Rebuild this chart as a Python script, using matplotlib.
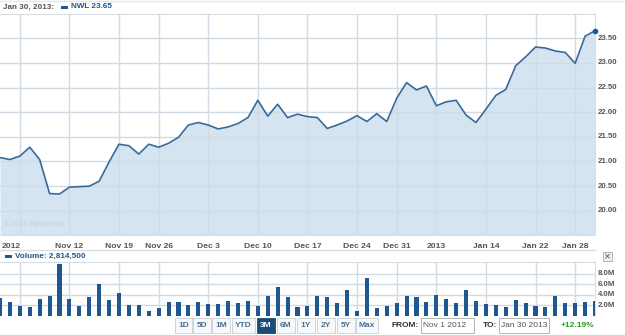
import matplotlib
matplotlib.use("Agg")
import matplotlib.pyplot as plt
from matplotlib.patches import Rectangle
import numpy as np

# ---- data (trading days Nov 1 2012 .. Jan 30 2013) ----
price = [21.08, 21.04, 21.11, 21.29, 21.04, 20.35, 20.34, 20.48, 20.49, 20.50,
         20.60, 20.99, 21.35, 21.32, 21.15, 21.35, 21.29, 21.37, 21.49, 21.74,
         21.79, 21.74, 21.66, 21.70, 21.77, 21.89, 22.24, 21.92, 22.16, 21.89,
         21.96, 21.91, 21.89, 21.67, 21.74, 21.82, 21.93, 21.81, 21.97, 21.81,
         22.28, 22.60, 22.45, 22.53, 22.13, 22.21, 22.24, 21.94, 21.79, 22.06,
         22.34, 22.46, 22.94, 23.12, 23.32, 23.30, 23.24, 23.21, 22.99, 23.54,
         23.65]
volume_m = [3.33, 2.63, 1.87, 1.56, 3.20, 3.65, 9.80, 3.20, 1.87, 3.52,
            5.94, 2.90, 4.29, 2.00, 2.00, 0.86, 1.43, 2.51, 2.63, 2.00,
            2.63, 2.19, 2.19, 2.76, 2.32, 2.76, 1.87, 3.71, 5.43, 3.52,
            1.56, 1.81, 3.78, 3.46, 2.44, 4.86, 0.86, 7.08, 1.49, 1.81,
            2.32, 3.65, 3.46, 2.57, 3.97, 3.14, 2.32, 4.86, 2.76, 2.19,
            1.94, 1.56, 2.90, 2.32, 1.75, 1.56, 3.78, 2.32, 2.32, 2.57,
            2.81]
tick_idx = [2, 7, 12, 16, 21, 26, 31, 36, 40, 44, 49, 54, 58]
tick_labels = ["2012", "Nov 12", "Nov 19", "Nov 26", "Dec 3", "Dec 10", "Dec 17",
               "Dec 24", "Dec 31", "2013", "Jan 14", "Jan 22", "Jan 28"]
price_ticks = [20.0, 20.5, 21.0, 21.5, 22.0, 22.5, 23.0, 23.5]
vol_ticks = [2, 4, 6, 8]
buttons = ["1D", "5D", "1M", "YTD", "3M", "6M", "1Y", "2Y", "5Y", "Max"]

W, H = 625, 335
fig = plt.figure(figsize=(W / 100, H / 100), dpi=100)
fig.patch.set_facecolor("white")

FONT = "Liberation Sans"
GRAY = "#555555"
BLUE = "#1f5790"
LINE = "#3a6a9a"
FILL = "#d4e4f0"
GRID = "#d2dbe5"

def fx(px):
    return px / W

def fy(py):
    return 1 - py / H

x = np.arange(len(price))

# ---- main price axes ----
ax = fig.add_axes([0, fy(235), fx(595), (235 - 14) / H])
ax.set_xlim(0, len(price) - 1)
ax.set_ylim(19.51, 23.99)
ax.fill_between(x, price, 19.51, color=FILL, lw=0, zorder=1)
ax.plot(x, price, color=LINE, lw=1.2, zorder=3)
ax.plot([x[-1]], [price[-1]], "o", ms=3, color=BLUE, zorder=4, clip_on=False)
ax.set_yticks(price_ticks)
ax.set_xticks(tick_idx)
ax.grid(True, color=GRID, lw=1, zorder=2)
ax.set_axisbelow(False)
ax.tick_params(length=0, labelleft=False, labelbottom=False)
for s in ax.spines.values():
    s.set_color("#d8dee5")
    s.set_linewidth(0.8)
ax.spines["left"].set_visible(False)
for p in price_ticks:
    ax.text(1.0 + 3 / 595, p, f"{p:.2f}", transform=ax.get_yaxis_transform(),
            ha="left", va="center", fontsize=5.7, fontweight="bold",
            color=GRAY, family=FONT, clip_on=False)
ax.text(0.006, 0.03, "\u00a9 2013 Yahoo! Inc.", transform=ax.transAxes,
        fontsize=5.2, color="#c4ccd4", family=FONT, ha="left", va="bottom")

# x tick labels
for i, lab in zip(tick_idx, tick_labels):
    ha = "right" if lab == "2012" else "center"
    xi = i + (0.1 if lab == "2012" else 0)
    ax.text(xi, -0.035, lab, transform=ax.get_xaxis_transform(), ha=ha,
            va="top", fontsize=6.1, fontweight="bold", color=GRAY, family=FONT,
            clip_on=False)

# ---- header ----
fig.text(fx(3), fy(7), "Jan 30, 2013:", ha="left", va="center", fontsize=5.9,
         fontweight="bold", color=GRAY, family=FONT)
fig.patches.append(Rectangle((fx(61), fy(9)), fx(7), 3 / H, transform=fig.transFigure,
                             color=BLUE, lw=0))
fig.text(fx(71), fy(7), "NWL 23.65", ha="left", va="center", fontsize=5.9,
         fontweight="bold", color=BLUE, family=FONT)
fig.lines.append(plt.Line2D([0, 1], [fy(0.5), fy(0.5)], transform=fig.transFigure,
                            color="#e4e8ec", lw=1))

# separator line
fig.lines.append(plt.Line2D([0, fx(595)], [fy(249.5), fy(249.5)], transform=fig.transFigure,
                            color="#dcdcdc", lw=1))

# ---- volume header ----
fig.patches.append(Rectangle((fx(5), fy(257.5)), fx(7), 3 / H, transform=fig.transFigure,
                             color=BLUE, lw=0))
fig.text(fx(15), fy(256), "Volume: 2,814,500", ha="left", va="center", fontsize=5.9,
         fontweight="bold", color=BLUE, family=FONT)
fig.patches.append(Rectangle((fx(603), fy(261)), fx(9), 9 / H, transform=fig.transFigure,
                             facecolor="#f0f0f0", edgecolor="#aaaaaa", lw=0.6))
fig.text(fx(607.5), fy(256.5), "\u00d7", ha="center", va="center", fontsize=6,
         color="#444444", family="DejaVu Sans")

# ---- volume axes ----
vax = fig.add_axes([0, fy(315.5), fx(595), (315.5 - 262) / H])
vax.set_xlim(0, len(price) - 1)
vax.set_ylim(0, 10.2)
vax.bar(x, volume_m, width=0.42, color=BLUE, zorder=3)
vax.set_xticks(tick_idx)
vax.set_yticks(vol_ticks)
vax.grid(True, color=GRID, lw=1, zorder=1)
vax.tick_params(length=0, labelleft=False, labelbottom=False)
for s in vax.spines.values():
    s.set_color("#d8dee5")
    s.set_linewidth(0.8)
vax.spines["left"].set_visible(False)
vax.spines["bottom"].set_visible(False)
for v in vol_ticks:
    vax.text(1.0 + 3 / 595, v, f"{v:.1f}M", transform=vax.get_yaxis_transform(),
             ha="left", va="center", fontsize=5.7, fontweight="bold",
             color=GRAY, family=FONT, clip_on=False)

# ---- range buttons ----
bx = [(175, 192), (193, 211), (212, 230), (232, 255), (257, 275),
      (277, 295), (297, 315), (317, 335), (337, 355), (356, 378)]
for lab, (a, b) in zip(buttons, bx):
    sel = lab == "3M"
    fig.patches.append(Rectangle((fx(a), fy(333)), fx(b - a), 15 / H,
                                 transform=fig.transFigure,
                                 facecolor="#1c4b78" if sel else "#f7f8fa",
                                 edgecolor="#1c4b78" if sel else "#c8ced6", lw=0.6))
    fig.text(fx((a + b) / 2), fy(325.5), lab, ha="center", va="center",
             fontsize=6, fontweight="bold",
             color="white" if sel else "#4a6f96", family=FONT)

fig.text(fx(392), fy(325.5), "FROM:", ha="left", va="center", fontsize=6,
         fontweight="bold", color="#333333", family=FONT)
fig.patches.append(Rectangle((fx(421), fy(333)), fx(53), 15 / H, transform=fig.transFigure,
                             facecolor="white", edgecolor="#a8a8a8", lw=0.6))
fig.text(fx(423), fy(325.5), "Nov 1 2012", ha="left", va="center", fontsize=6,
         color="#555555", family=FONT)
fig.text(fx(483), fy(325.5), "TO:", ha="left", va="center", fontsize=6,
         fontweight="bold", color="#333333", family=FONT)
fig.patches.append(Rectangle((fx(499), fy(333)), fx(50), 15 / H, transform=fig.transFigure,
                             facecolor="white", edgecolor="#a8a8a8", lw=0.6))
fig.text(fx(501), fy(325.5), "Jan 30 2013", ha="left", va="center", fontsize=6,
         color="#555555", family=FONT)
fig.text(fx(594), fy(325.5), "+12.19%", ha="right", va="center", fontsize=6,
         fontweight="bold", color="#2a9a2a", family=FONT)

fig.savefig("out.png", dpi=100, facecolor="white")
